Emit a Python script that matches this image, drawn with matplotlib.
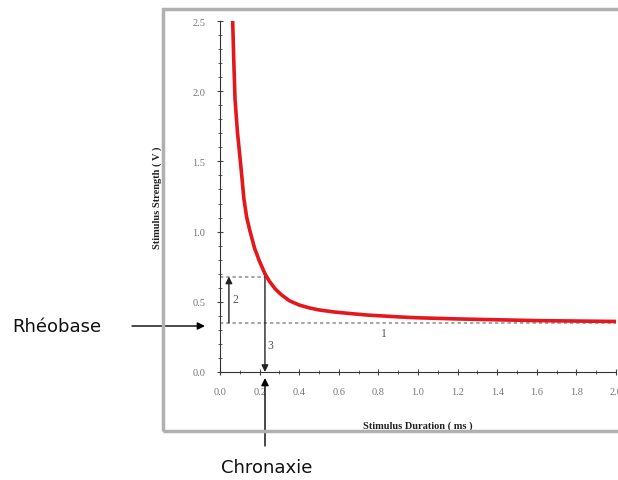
import matplotlib
matplotlib.use("Agg")
import matplotlib.pyplot as plt
from matplotlib.patches import Rectangle
from matplotlib.ticker import MultipleLocator

# strength-duration curve
duration = [0.064, 0.070, 0.076, 0.088, 0.105, 0.121, 0.135, 0.152, 0.175,
            0.199, 0.227, 0.250, 0.280, 0.310, 0.350, 0.400, 0.450,
            0.500, 0.580, 0.660, 0.750, 0.910, 1.000, 1.200, 1.400, 1.600,
            1.800, 2.000]
strength = [2.50, 2.20, 1.94, 1.71, 1.47, 1.23, 1.10, 1.00, 0.88,
            0.79, 0.70, 0.645, 0.59, 0.55, 0.508, 0.477, 0.457,
            0.442, 0.427, 0.416, 0.405, 0.392, 0.386, 0.378, 0.372, 0.366,
            0.363, 0.36]

rheobase = 0.35
double_rheobase = 0.68
chronaxie = 0.227

x_ticks = [0.0, 0.2, 0.4, 0.6, 0.8, 1.0, 1.2, 1.4, 1.6, 1.8, 2.0]
y_ticks = [0.0, 0.5, 1.0, 1.5, 2.0, 2.5]

W, H = 618, 481
fig = plt.figure(figsize=(W / 100, H / 100), dpi=100)

# grey frame of the original pasted chart
fig.patches.append(Rectangle((163 / W, 1 - 432 / H), 500 / W, 422 / H,
                             transform=fig.transFigure, fill=False,
                             edgecolor="#b0b0b0", linewidth=2.5))

ax = fig.add_axes([220 / W, 108 / H, 396 / W, 351 / H])
ax.set_facecolor("none")
ax.plot(duration, strength, color="#e5161c", linewidth=2.6, zorder=5,
        solid_joinstyle="round")

dash = dict(color="#a8a8a8", linewidth=1.5, linestyle=(0, (1.6, 1.4)))
ax.plot([0, 2.0], [rheobase, rheobase], **dash)
ax.plot([0, chronaxie], [double_rheobase, double_rheobase], **dash)

arr = dict(arrowstyle="-|>", color="#222222", lw=1.0, mutation_scale=10,
           shrinkA=0, shrinkB=0)
ax.annotate("", xy=(0.045, double_rheobase), xytext=(0.045, rheobase), arrowprops=arr)
ax.annotate("", xy=(chronaxie, 0.0), xytext=(chronaxie, double_rheobase), arrowprops=arr)

num = dict(family="Liberation Serif", fontsize=8.5, color="#555555")
ax.text(0.08, 0.52, "2", ha="center", va="center", **num)
ax.text(0.83, 0.28, "1", ha="center", va="center", **num)
ax.text(0.255, 0.19, "3", ha="center", va="center", **num)

ax.set_xlim(0, 2.0)
ax.set_ylim(0, 2.5)
ax.set_xticks(x_ticks)
ax.set_yticks(y_ticks)
ax.set_xticklabels([f"{v:.1f}" for v in x_ticks])
ax.set_yticklabels([f"{v:.1f}" for v in y_ticks])
ax.xaxis.set_minor_locator(MultipleLocator(0.1))
ax.yaxis.set_minor_locator(MultipleLocator(0.1))
ax.tick_params(axis="both", which="both", direction="inout", color="#444444",
               labelsize=7.5, labelcolor="#777777")
ax.tick_params(axis="both", which="major", length=5, pad=8)
ax.tick_params(axis="both", which="minor", length=3)
for lab in ax.get_xticklabels() + ax.get_yticklabels():
    lab.set_family("Liberation Serif")

ax.spines["top"].set_visible(False)
ax.spines["right"].set_visible(False)
ax.spines["left"].set_color("#333333")
ax.spines["bottom"].set_color("#333333")

ax.set_xlabel("Stimulus Duration ( ms )", family="Liberation Serif",
              fontsize=7.5, fontweight="bold", color="#222222", labelpad=18)
ax.set_ylabel("Stimulus Strength ( V )", family="Liberation Serif",
              fontsize=7.5, fontweight="bold", color="#222222", labelpad=22)

# outer labels with their arrows
fig.text(12 / W, 1 - 327 / H, "Rhéobase", family="DejaVu Sans", fontsize=13,
         ha="left", va="center", color="#111111")
fig.text(267 / W, 1 - 468 / H, "Chronaxie", family="DejaVu Sans", fontsize=13,
         ha="center", va="center", color="#111111")
outer = dict(arrowstyle="-|>", color="black", lw=1.0, mutation_scale=11,
             shrinkA=0, shrinkB=0)
ax.annotate("", xy=(205 / W, 1 - 327 / H), xytext=(132 / W, 1 - 327 / H),
            xycoords="figure fraction", textcoords="figure fraction",
            arrowprops=outer, annotation_clip=False)
ax.annotate("", xy=(265 / W, 1 - 379 / H), xytext=(265 / W, 1 - 447 / H),
            xycoords="figure fraction", textcoords="figure fraction",
            arrowprops=outer, annotation_clip=False)

fig.savefig("out.png", dpi=100)
